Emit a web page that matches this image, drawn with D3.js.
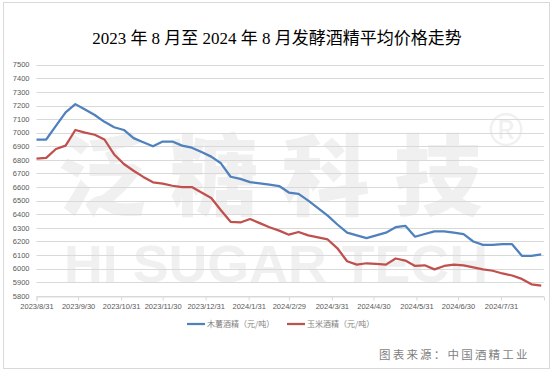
<!DOCTYPE html>
<html><head><meta charset="utf-8">
<script src="https://cdn.jsdelivr.net/npm/d3@7"></script>
<style>html,body{margin:0;padding:0;background:#fff}svg{display:block}</style>
</head><body>
<script>
const title = "2023 年 8 月至 2024 年 8 月发酵酒精平均价格走势";
const source = "图表来源：中国酒精工业";
const seriesNames = ["木薯酒精（元/吨）", "玉米酒精（元/吨）"];
const dates = ["2023-08-31","2023-09-07","2023-09-14","2023-09-21","2023-09-28","2023-10-05","2023-10-12","2023-10-19","2023-10-26",
"2023-11-02","2023-11-09","2023-11-16","2023-11-23","2023-11-30","2023-12-07","2023-12-14","2023-12-21","2023-12-28",
"2024-01-04","2024-01-11","2024-01-18","2024-01-25","2024-02-01","2024-02-08","2024-02-15","2024-02-22","2024-02-29",
"2024-03-07","2024-03-14","2024-03-21","2024-03-28","2024-04-04","2024-04-11","2024-04-18","2024-04-25","2024-05-02",
"2024-05-09","2024-05-16","2024-05-23","2024-05-30","2024-06-06","2024-06-13","2024-06-20","2024-06-27","2024-07-04",
"2024-07-11","2024-07-18","2024-07-25","2024-08-01","2024-08-08","2024-08-15","2024-08-22","2024-08-29"];
const cassava = [6950,6950,7050,7150,7210,7170,7130,7080,7040,7020,6960,6930,6900,6935,6935,6905,6890,6858,6824,6775,6676,6660,6637,6628,6618,6608,6560,
6550,6500,6445,6390,6325,6265,6245,6225,6245,6265,6305,6315,6235,6255,6275,6275,6265,6255,6200,6175,6175,6180,6180,6095,6095,6105];
const corn = [6810,6815,6880,6905,7020,7000,6985,6950,6840,6770,6720,6675,6635,6625,6610,6600,6600,6560,6520,6430,6345,6340,6365,6335,6305,6280,6250,
6270,6245,6230,6215,6150,6055,6030,6040,6035,6030,6075,6060,6020,6025,5995,6020,6030,6025,6010,5995,5985,5965,5950,5925,5885,5875];
const xTickLabels = ["2023/8/31","2023/9/30","2023/10/31","2023/11/30","2023/12/31","2024/1/31","2024/2/29","2024/3/31","2024/4/30","2024/5/31","2024/6/30","2024/7/31"];
const yTicks = [5800,5900,6000,6100,6200,6300,6400,6500,6600,6700,6800,6900,7000,7100,7200,7300,7400,7500];
const colors = ["#4f81bd", "#c0504d"];

const W = 554, H = 378;
const svg = d3.select("body").append("svg").attr("width", W).attr("height", H);
svg.append("rect").attr("width", W).attr("height", H).attr("fill", "#fff");
svg.append("rect").attr("x", 3.5).attr("y", 2.5).attr("width", 546).attr("height", 366)
  .attr("fill", "none").attr("stroke", "#d9d9d9").attr("stroke-width", 1);

const parse = d3.timeParse("%Y-%m-%d");
const parseTick = d3.timeParse("%Y/%m/%d");
const x = d3.scaleTime().domain([parse("2023-08-31"), parse("2024-08-31")]).range([36.5, 544]);
const y = d3.scaleLinear().domain([5800, 7500]).range([295.9, 64.7]);

// watermark
const wm = svg.append("g").attr("fill", "#f0f0f0");
wm.append("text").attr("x", 58).attr("y", 208).attr("font-family", "Noto Sans CJK SC")
  .attr("font-weight", 900).attr("font-size", 88).attr("textLength", 424).attr("lengthAdjust", "spacing").text("泛糖科技");
wm.append("text").attr("x", 64).attr("y", 282).attr("font-family", "Liberation Sans")
  .attr("font-weight", 700).attr("font-size", 52).attr("textLength", 424).attr("lengthAdjust", "spacingAndGlyphs").text("HI SUGAR TECH");
wm.append("text").attr("x", 489).attr("y", 146).attr("font-family", "Liberation Sans")
  .attr("font-size", 46).text("®");

// gridlines
svg.append("g").selectAll("line").data(yTicks).join("line")
  .attr("x1", 36.5).attr("x2", 544)
  .attr("y1", d => Math.round(y(d)) + 0.5).attr("y2", d => Math.round(y(d)) + 0.5)
  .attr("stroke", "#d9d9d9").attr("stroke-width", 1);

// y labels
svg.append("g").selectAll("text").data(yTicks).join("text")
  .attr("x", 29.5).attr("y", d => y(d)).attr("dy", "0.35em").attr("text-anchor", "end")
  .attr("font-family", "Liberation Sans").attr("font-size", 7.5).attr("fill", "#595959")
  .text(d => d);

// x axis
const xAxis = d3.axisBottom(x).tickValues(xTickLabels.map(parseTick)).tickSize(4)
  .tickFormat((d, i) => xTickLabels[i]);
const gx = svg.append("g").attr("transform", `translate(0,${Math.round(y(5800)) + 0.5})`).call(xAxis);
gx.select(".domain").attr("stroke", "#d9d9d9");
gx.selectAll(".tick line").attr("stroke", "#d9d9d9");
gx.selectAll(".tick text").attr("font-family", "Liberation Sans").attr("font-size", 7.5)
  .attr("fill", "#595959").attr("y", 7);

// lines
const line = d3.line().x((d, i) => x(parse(dates[i]))).y(d => y(d));
[cassava, corn].forEach((s, k) => {
  svg.append("path").datum(s).attr("d", line).attr("fill", "none")
    .attr("stroke", colors[k]).attr("stroke-width", 2.25).attr("stroke-linejoin", "round");
});

// title
svg.append("text").attr("x", 277).attr("y", 44).attr("text-anchor", "middle")
  .attr("font-family", "Liberation Serif, Noto Sans CJK SC").attr("font-size", 17).attr("fill", "#000")
  .text(title);

// legend
const lg = svg.append("g");
const legX = [187, 287];
seriesNames.forEach((n, k) => {
  lg.append("line").attr("x1", legX[k]).attr("x2", legX[k] + 18).attr("y1", 324).attr("y2", 324)
    .attr("stroke", colors[k]).attr("stroke-width", 2.25);
  lg.append("text").attr("x", legX[k] + 20).attr("y", 324).attr("dy", "0.35em")
    .attr("font-family", "Noto Sans CJK SC").attr("font-size", 8).attr("fill", "#7f7f7f").text(n);
});

// source
svg.append("text").attr("x", 379).attr("y", 359).attr("font-family", "Noto Sans CJK SC")
  .attr("font-size", 11.5).attr("letter-spacing", 2.2).attr("fill", "#7f7f7f").text(source);
</script>
</body></html>
